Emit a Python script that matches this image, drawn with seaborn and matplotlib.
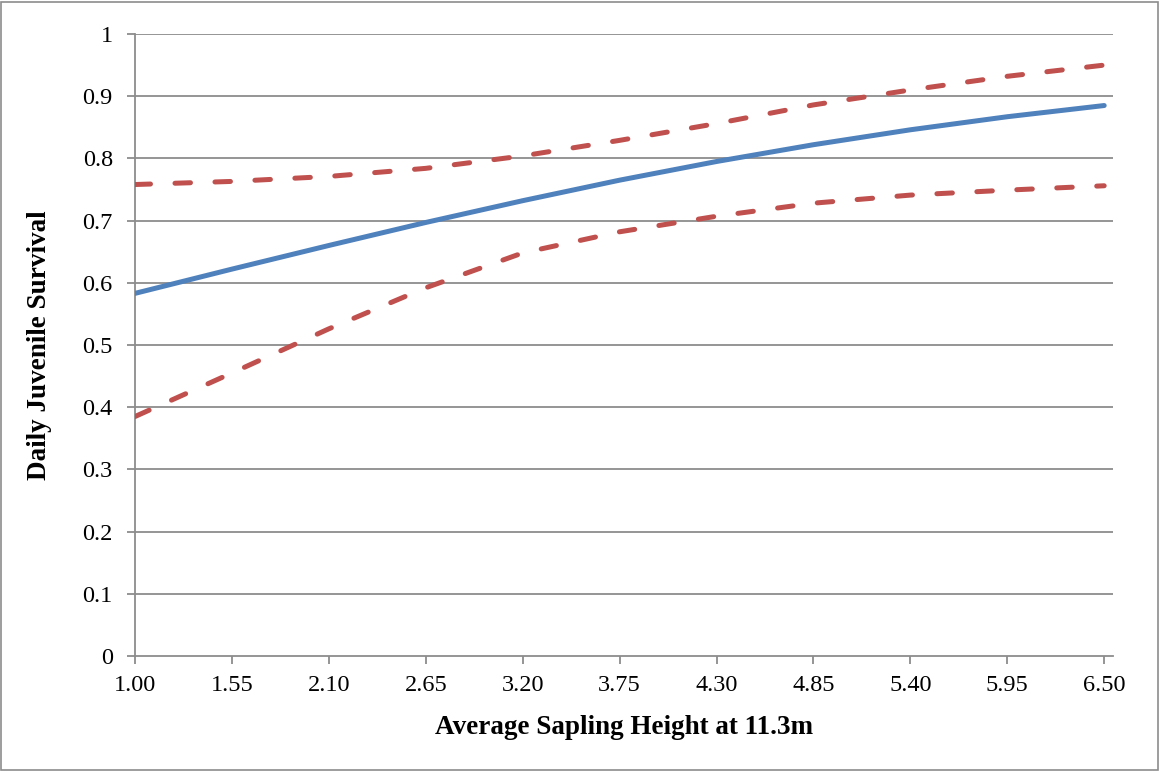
import matplotlib
matplotlib.use("Agg")
import matplotlib.pyplot as plt
import seaborn as sns
import pandas as pd
from matplotlib.patches import Rectangle

# ---- data ----
heights = [1.00, 1.55, 2.10, 2.65, 3.20, 3.75, 4.30, 4.85, 5.40, 5.95, 6.50]
survival = [0.583, 0.622, 0.660, 0.697, 0.732, 0.765, 0.795, 0.822, 0.846, 0.867, 0.885]
upper_ci = [0.758, 0.763, 0.771, 0.784, 0.804, 0.829, 0.856, 0.886, 0.910, 0.932, 0.950]
lower_ci = [0.385, 0.455, 0.526, 0.592, 0.648, 0.682, 0.707, 0.728, 0.741, 0.749, 0.756]
x_ticks = [1.00, 1.55, 2.10, 2.65, 3.20, 3.75, 4.30, 4.85, 5.40, 5.95, 6.50]
y_ticks = [0, 0.1, 0.2, 0.3, 0.4, 0.5, 0.6, 0.7, 0.8, 0.9, 1]

df = pd.DataFrame({
    "x": heights * 3,
    "y": survival + upper_ci + lower_ci,
    "series": ["Survival"] * len(heights) + ["Upper"] * len(heights) + ["Lower"] * len(heights),
})

sns.set_theme(style="white")
plt.rcParams["font.family"] = ["Liberation Serif", "DejaVu Serif"]

fig = plt.figure(figsize=(11.61, 7.72), dpi=100)
ax = fig.add_axes([135 / 1161, 1 - 656 / 772, (1113 - 135) / 1161, (656 - 34) / 772])

grid_col = "#8c8c8c"
for yv in y_ticks[1:]:
    ax.axhline(yv, color=grid_col, lw=1.3, zorder=1)

blue = "#4F81BD"
red = "#C0504D"
sns.lineplot(data=df[df.series == "Survival"], x="x", y="y", ax=ax, color=blue,
             lw=3.6, solid_capstyle="round", legend=False, zorder=3)
for name in ["Upper", "Lower"]:
    sns.lineplot(data=df[df.series == name], x="x", y="y", ax=ax, color=red,
                 lw=3.6, legend=False, zorder=3, dashes=False)
    ax.lines[-1].set_linestyle((0, (3.1, 4.9)))
    ax.lines[-1].set_dash_capstyle("round")

ax.set_xlim(1.0, 6.55)
ax.set_ylim(0, 1)
ax.set_xticks(x_ticks)
ax.set_xticklabels([f"{v:.2f}" for v in x_ticks])
ax.set_yticks(y_ticks)
ax.set_yticklabels(["0"] + [f"{v:.1f}" for v in y_ticks[1:-1]] + ["1"])

for s in ["top", "right"]:
    ax.spines[s].set_visible(False)
for s in ["left", "bottom"]:
    ax.spines[s].set_color(grid_col)
    ax.spines[s].set_linewidth(1.3)
ax.tick_params(axis="both", which="major", direction="out", length=6,
               width=1.3, color=grid_col, labelsize=17.5, labelcolor="black",
               left=True, bottom=True)
ax.tick_params(axis="y", pad=10)
ax.tick_params(axis="x", pad=8)

ax.set_xlabel("Average Sapling Height at 11.3m", fontsize=19.5, fontweight="bold",
              color="black", labelpad=13)
ax.set_ylabel("Daily Juvenile Survival", fontsize=19.5, fontweight="bold",
              color="black", labelpad=22)

fig.patches.append(Rectangle((0.001, 0.002), 0.9965, 0.996, transform=fig.transFigure,
                             fill=False, edgecolor="#8c8c8c", lw=1.2))

fig.savefig("out.png", dpi=100, facecolor="white")
